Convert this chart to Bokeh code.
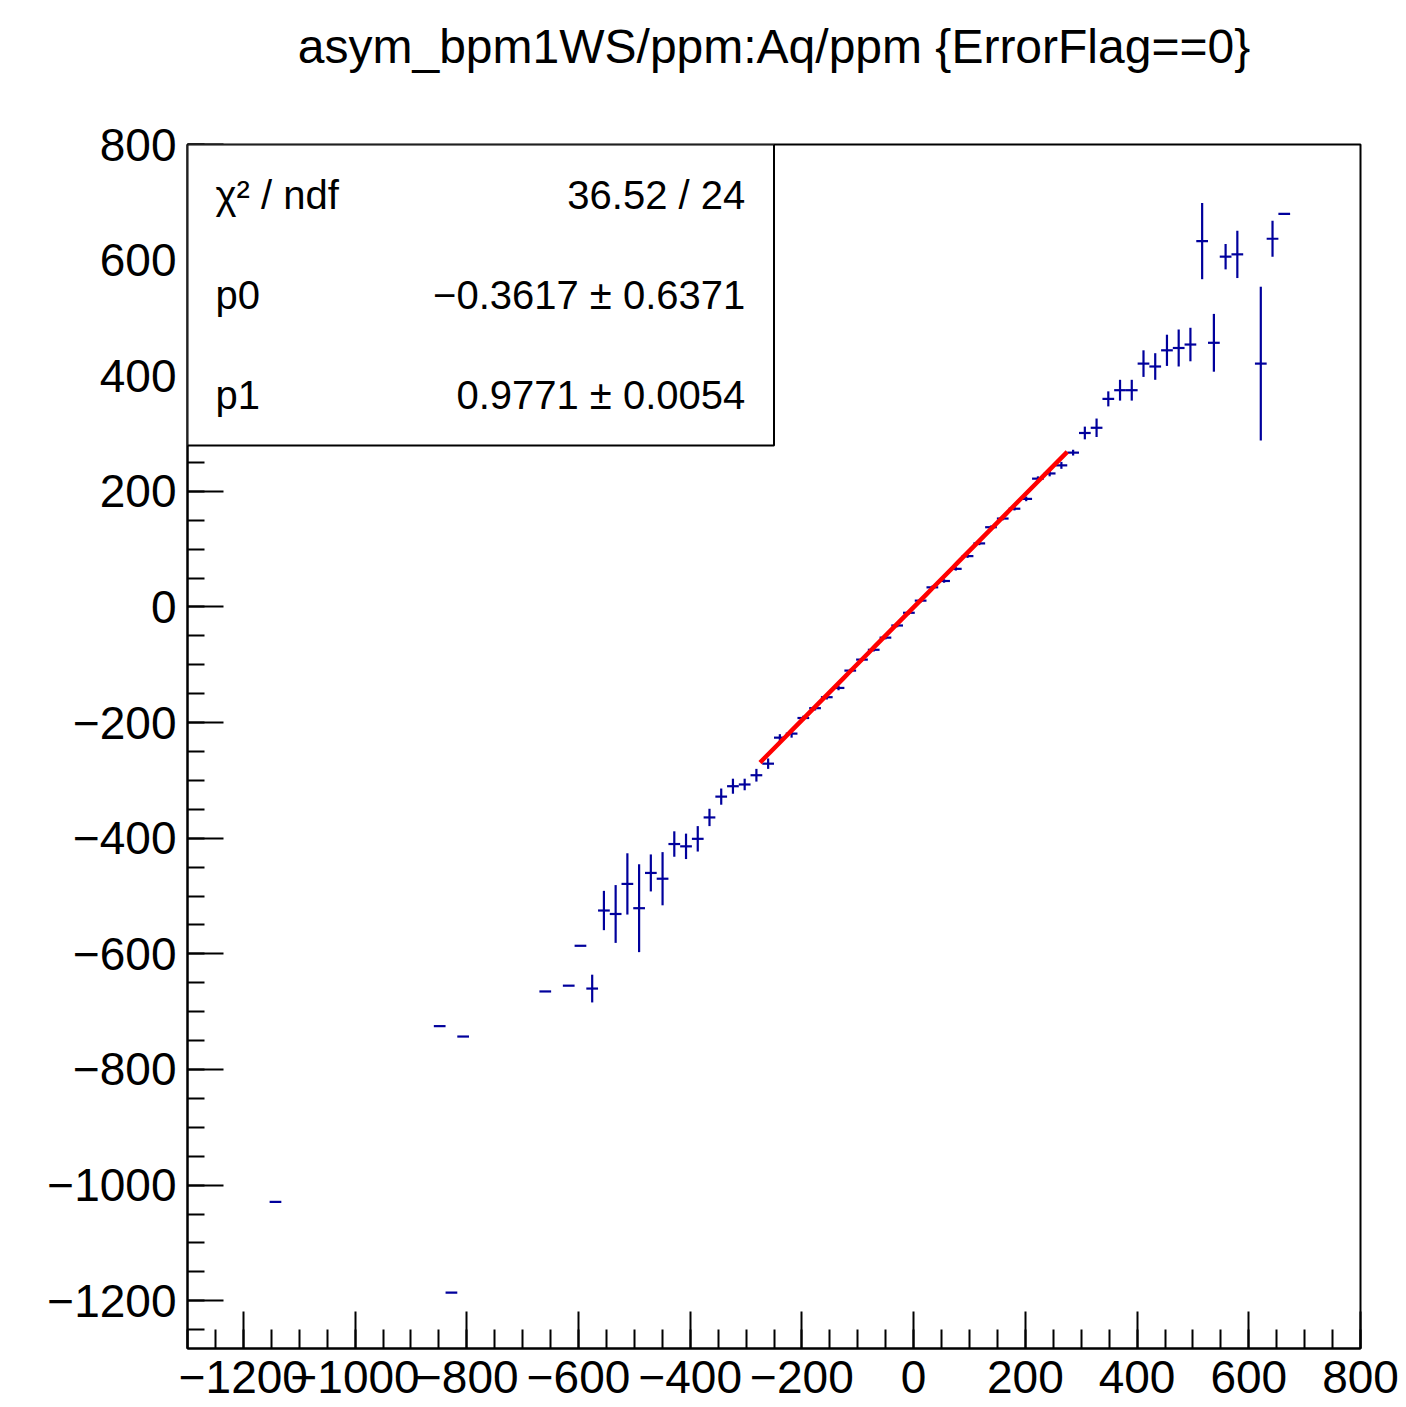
import numpy as np
from bokeh.plotting import figure
from bokeh.models import Range1d, FixedTicker, BoxAnnotation, Label, ColumnDataSource, Title
from bokeh.embed import file_html
from bokeh.resources import INLINE

# ---------------- data ----------------
title_text = "asym_bpm1WS/ppm:Aq/ppm {ErrorFlag==0}"

x_centers = [-1142.5, -848.5, -827.5, -806.5, -659.5, -617.5, -596.5, -575.5,
             -554.5, -533.5, -512.5, -491.5, -470.5, -449.5, -428.5, -407.5,
             -386.5, -365.5, -344.5, -323.5, -302.5, -281.5, -260.5, -239.5,
             -218.5, -197.5, -176.5, -155.5, -134.5, -113.5, -92.5, -71.5,
             -50.5, -29.5, -8.5, 12.5, 33.5, 54.5, 75.5, 96.5,
             117.5, 138.5, 159.5, 180.5, 201.5, 222.5, 243.5, 264.5,
             285.5, 306.5, 327.5, 348.5, 369.5, 390.5, 411.5, 432.5,
             453.5, 474.5, 495.5, 516.5, 537.5, 558.5, 579.5, 621.5,
             642.5, 663.5]
y_means = [-1029, -725, -1186, -743, -665, -655, -586, -660,
           -525, -531, -479, -521, -460, -470, -410, -414,
           -401, -364, -328, -310, -307, -291, -271, -226,
           -219, -192, -175, -156, -140, -110, -91, -74,
           -53, -32, -10, 11, 34, 45, 66, 88,
           110, 138, 153, 170, 187, 222, 231, 245,
           267, 301, 310, 360, 375, 375, 421, 416,
           444, 448, 454, 633, 457, 606, 610, 421,
           637, 680]
y_errs = [0, 0, 0, 0, 0, 0, 0, 24,
          34, 50, 53, 76, 32, 46, 22, 22,
          22, 15, 14, 13, 10, 11, 9, 6,
          7, 4, 4, 4, 4, 3, 3, 3,
          3, 3, 3, 3, 3, 3, 3, 3,
          3, 3, 3, 3, 4, 4, 5, 6,
          5, 11, 16, 13, 18, 18, 23, 23,
          27, 32, 29, 66, 50, 22, 41, 133,
          31, 0]
bin_width = 21.0

fit_p0, fit_p0_err = -0.3617, 0.6371
fit_p1, fit_p1_err = 0.9771, 0.0054
fit_chi2, fit_ndf = 36.52, 24
fit_range = [-275.0, 275.0]

x_ticks = [-1200, -1000, -800, -600, -400, -200, 0, 200, 400, 600, 800]
y_ticks = [-1200, -1000, -800, -600, -400, -200, 0, 200, 400, 600, 800]
x_minor = list(range(-1300, 801, 50))
y_minor = list(range(-1250, 801, 50))

XMIN, XMAX = -1300.0, 800.0
YMIN, YMAX = -1282.6, 800.0

FONT = "Liberation Sans"
BLUE = "#00009c"


def fmt(v):
    s = f"{v:g}"
    return s.replace("-", "\u2212")


# ---------------- figure ----------------
p = figure(width=1406, height=1407, output_backend="svg", toolbar_location=None,
           x_range=Range1d(XMIN, XMAX), y_range=Range1d(YMIN, YMAX),
           min_border_left=187, min_border_right=46, min_border_top=144,
           min_border_bottom=59, background_fill_color="white",
           border_fill_color="white")

# real title (outermost panel)
p.title.text = title_text
p.title.align = "center"
p.title.vertical_align = "bottom"
p.title.text_font = FONT
p.title.text_font_size = "48px"
p.title.text_font_style = "normal"
p.title.text_color = "black"
p.title.standoff = 0

# spacer panel next to the frame (keeps the real title higher up)
p.add_layout(Title(text=" ", text_font_size="10px", standoff=59), "above")

p.xgrid.visible = False
p.ygrid.visible = False
p.outline_line_color = "black"
p.outline_line_width = 2

for ax, ticks, minors in ((p.xaxis[0], x_ticks, x_minor), (p.yaxis[0], y_ticks, y_minor)):
    ax.ticker = FixedTicker(ticks=ticks, minor_ticks=minors)
    ax.major_label_overrides = {t: fmt(t) for t in ticks}
    ax.major_label_text_font = FONT
    ax.major_label_text_font_size = "46px"
    ax.major_label_text_color = "black"
    ax.axis_line_color = "black"
    ax.axis_line_width = 2
    ax.major_tick_line_color = "black"
    ax.major_tick_line_width = 2
    ax.minor_tick_line_color = "black"
    ax.minor_tick_line_width = 2
    ax.major_tick_out = 0
    ax.minor_tick_out = 0

p.xaxis.major_tick_in = 37
p.xaxis.minor_tick_in = 19
p.xaxis.major_label_standoff = 12
p.yaxis.major_tick_in = 36
p.yaxis.minor_tick_in = 17
p.yaxis.major_label_standoff = 11

xspan = XMAX - XMIN
yspan = YMAX - YMIN

# ---------------- data marks ----------------
xc = np.array(x_centers, dtype=float)
ym = np.array(y_means, dtype=float)
ye = np.array(y_errs, dtype=float)
src = ColumnDataSource(dict(
    x=xc, y=ym,
    xl=xc - bin_width / 2, xr=xc + bin_width / 2,
    ylo=ym - ye, yhi=ym + ye,
))
p.segment(x0="xl", y0="y", x1="xr", y1="y", source=src,
          line_color=BLUE, line_width=2.2)
p.segment(x0="x", y0="ylo", x1="x", y1="yhi", source=src,
          line_color=BLUE, line_width=2.2)

fx = np.linspace(fit_range[0], fit_range[1], 60)
fy = fit_p0 + fit_p1 * fx
p.line(fx, fy, line_color="#ff0000", line_width=4.5)

# ---------------- stat box ----------------
box_l, box_r = XMIN, XMIN + 0.5 * xspan
box_t, box_b = YMAX, YMAX - 0.25 * yspan
p.add_layout(BoxAnnotation(left=box_l, right=box_r, top=box_t, bottom=box_b,
                           fill_color="white", fill_alpha=1.0,
                           line_color="black", line_width=2, line_alpha=1.0))

row_h = (box_t - box_b) / 3.0
lx = box_l + 0.0239 * xspan
rx = box_l + 0.4755 * xspan
names = ["\u03c7\u00b2 / ndf", "p0", "p1"]
vals = [f"{fit_chi2:.2f} / {fit_ndf}",
        f"{fmt(fit_p0)} \u00b1 {fit_p0_err:.4f}",
        f"{fit_p1:.4f} \u00b1 {fit_p1_err:.4f}"]
for k in range(3):
    yy = box_t - (k + 0.5) * row_h
    p.add_layout(Label(x=lx, y=yy, text=names[k], text_font=FONT,
                       text_font_size="40px", text_baseline="middle",
                       text_align="left", text_color="black"))
    p.add_layout(Label(x=rx, y=yy, text=vals[k], text_font=FONT,
                       text_font_size="40px", text_baseline="middle",
                       text_align="right", text_color="black"))

open("out.html", "w").write(file_html(p, INLINE))
